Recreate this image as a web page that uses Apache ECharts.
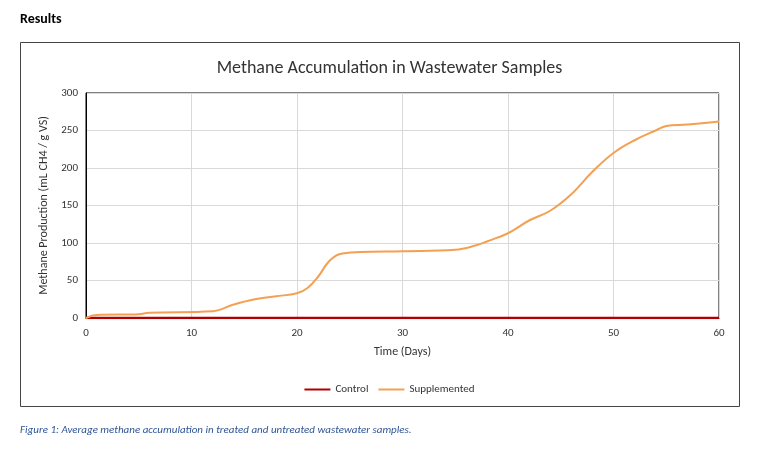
<!DOCTYPE html><html><head><meta charset="utf-8"><script src="https://cdn.jsdelivr.net/npm/echarts@6/dist/echarts.min.js"></script>
<style>body{margin:0;background:#fff}#c{width:779px;height:453px}</style></head><body><div id="c"></div><script>
const days=[0,1,5,6,12,14,16,18,20,21,22,23,24,26,30,35,37,38,40,42,44,46,48,50,52,54,55,57,60];
const supplemented=[0,4,5,7,9,18,25,29,33,40,55,75,85,88,89,91,97,102,113,130,143,165,195,220,237,250,256,258,262];
const controlDays=[0,60];
const control=[0,0];
const ch=echarts.init(document.getElementById('c'));
const f='Calibri, Carlito, "Open Sans", sans-serif';
ch.setOption({animation:false,
title:{text:'Methane Accumulation in Wastewater Samples',left:'center',top:54,textStyle:{fontFamily:f,fontSize:18,fontWeight:'normal',color:'#333'}},
graphic:[{type:'text',left:20,top:12,style:{text:'Results',font:'bold 14px '+f,fill:'#000'}},
{type:'rect',shape:{x:20.5,y:42.5,width:719,height:364},style:{fill:'none',stroke:'#444',lineWidth:1}},
{type:'text',left:20,top:425,style:{text:'Figure 1: Average methane accumulation in treated and untreated wastewater samples.',font:'italic 11px '+f,fill:'#2f5597'}}],
legend:{bottom:53,itemGap:10,itemWidth:26,itemHeight:2,icon:'rect',textStyle:{fontFamily:f,fontSize:11,color:'#333'},data:['Control','Supplemented']},
grid:{left:86,right:60,top:93,bottom:135,show:true,borderColor:'#000',borderWidth:1},
xAxis:{type:'value',min:0,max:60,interval:10,name:'Time (Days)',nameLocation:'middle',nameGap:28,nameTextStyle:{fontFamily:f,fontSize:12,color:'#333'},
axisLine:{lineStyle:{color:'#000'}},axisTick:{show:false},axisLabel:{fontFamily:f,fontSize:11,color:'#333',margin:10},splitLine:{lineStyle:{color:'#d9d9d9'}}},
yAxis:{type:'value',min:0,max:300,interval:50,name:'Methane Production (mL CH4 / g VS)',nameLocation:'middle',nameGap:34,nameTextStyle:{fontFamily:f,fontSize:12,color:'#333'},
axisLine:{show:true,lineStyle:{color:'#000'}},axisTick:{show:false},axisLabel:{fontFamily:f,fontSize:11,color:'#333'},splitLine:{lineStyle:{color:'#d9d9d9'}}},
series:[{name:'Control',type:'line',showSymbol:false,data:controlDays.map((d,i)=>[d,control[i]]),lineStyle:{color:'#b00000',width:2.5},itemStyle:{color:'#b00000'},z:3},
{name:'Supplemented',type:'line',smooth:0.4,showSymbol:false,data:days.map((d,i)=>[d,supplemented[i]]),lineStyle:{color:'#f4a053',width:2},itemStyle:{color:'#f4a053'}}]});
</script></body></html>
